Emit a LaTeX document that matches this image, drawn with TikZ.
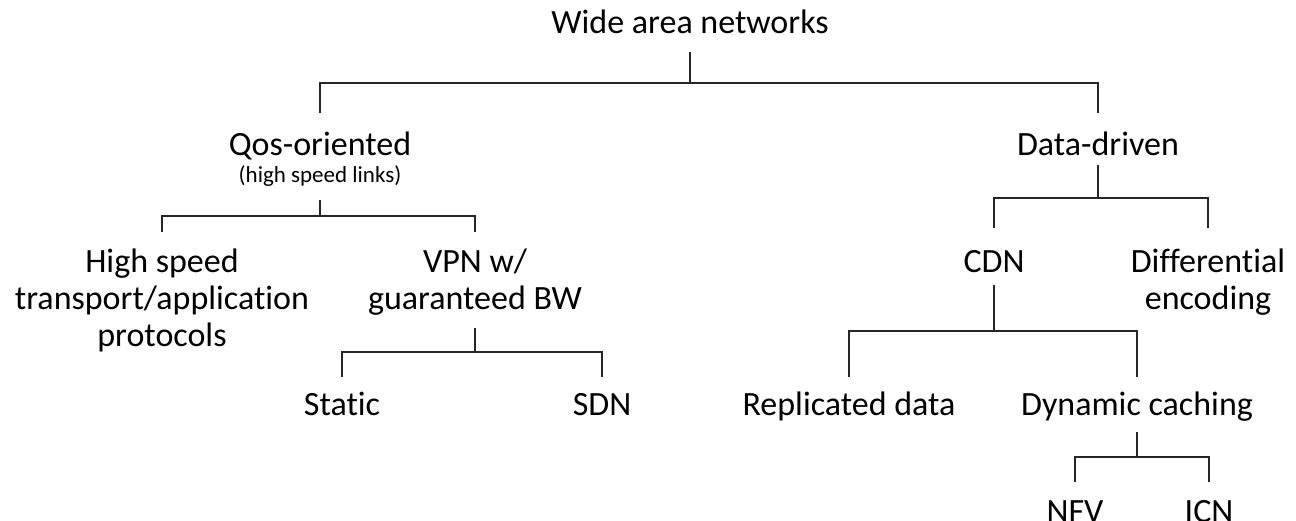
\documentclass[tikz,border=0pt]{standalone}
\usepackage{fontspec}
\setmainfont{Carlito}[Ligatures=NoCommon]
\usetikzlibrary{calc}

\begin{document}
\begin{tikzpicture}[
    x = 1pt, y = -1pt,
    line width = 1.3pt,
    label/.style={font=\fontsize{34}{37}\selectfont, align=center, anchor=base, inner sep=0pt},
    note/.style={font=\fontsize{23}{28}\selectfont, anchor=base, inner sep=0pt},
    branch/.style={draw=black!85}
]
    \useasboundingbox (0,0) rectangle (1296,520);

    % top level
    \node[label] (wan) at (690,33) {Wide area networks};
    \node[label] (qos) at (320,155) {Qos-oriented};
    \node[note] (qosnote) at (320,182) {(high speed links)};
    \node[label] (data) at (1098,155) {Data-driven};

    % QoS side (multi-line nodes sit on their last line)
    \node[label] (hsp) at (162,346) {High speed\\transport/application\\protocols};
    \node[label] (vpn) at (475,309) {VPN w/\\guaranteed BW};
    \node[label] (static) at (342,415) {Static};
    \node[label] (sdn) at (602,415) {SDN};

    % data side
    \node[label] (cdn) at (994,272) {CDN};
    \node[label] (diff) at (1208,309) {Differential\\encoding};
    \node[label] (repl) at (849,415) {Replicated data};
    \node[label] (dyn) at (1137,415) {Dynamic caching};
    \node[label] (nfv) at (1075,522) {NFV};
    \node[label] (icn) at (1209,522) {ICN};

    % connectors
    \draw[branch] ($(wan.base)+(0,19)$) -- ++(0,31) -| ($(qos.base)+(0,-42)$);
    \draw[branch] ($(wan.base)+(0,19)$) -- ++(0,31) -| ($(data.base)+(0,-42)$);

    \draw[branch] ($(qosnote.base)+(0,18)$) -- ++(0,16) -| ($(hsp.base)+(0,-114)$);
    \draw[branch] ($(qosnote.base)+(0,18)$) -- ++(0,16) -| ($(vpn.base)+(0,-77)$);

    \draw[branch] ($(vpn.base)+(0,19)$) -- ++(0,24) -| ($(static.base)+(0,-38)$);
    \draw[branch] ($(vpn.base)+(0,19)$) -- ++(0,24) -| ($(sdn.base)+(0,-38)$);

    \draw[branch] ($(data.base)+(0,10)$) -- ++(0,33) -| ($(cdn.base)+(0,-44)$);
    \draw[branch] ($(data.base)+(0,10)$) -- ++(0,33) -| ($(diff.base)+(0,-81)$);

    \draw[branch] ($(cdn.base)+(0,13)$) -- ++(0,46) -| ($(repl.base)+(0,-38)$);
    \draw[branch] ($(cdn.base)+(0,13)$) -- ++(0,46) -| ($(dyn.base)+(0,-38)$);

    \draw[branch] ($(dyn.base)+(0,17)$) -- ++(0,25) -| ($(nfv.base)+(0,-40)$);
    \draw[branch] ($(dyn.base)+(0,17)$) -- ++(0,25) -| ($(icn.base)+(0,-40)$);
\end{tikzpicture}
\end{document}
